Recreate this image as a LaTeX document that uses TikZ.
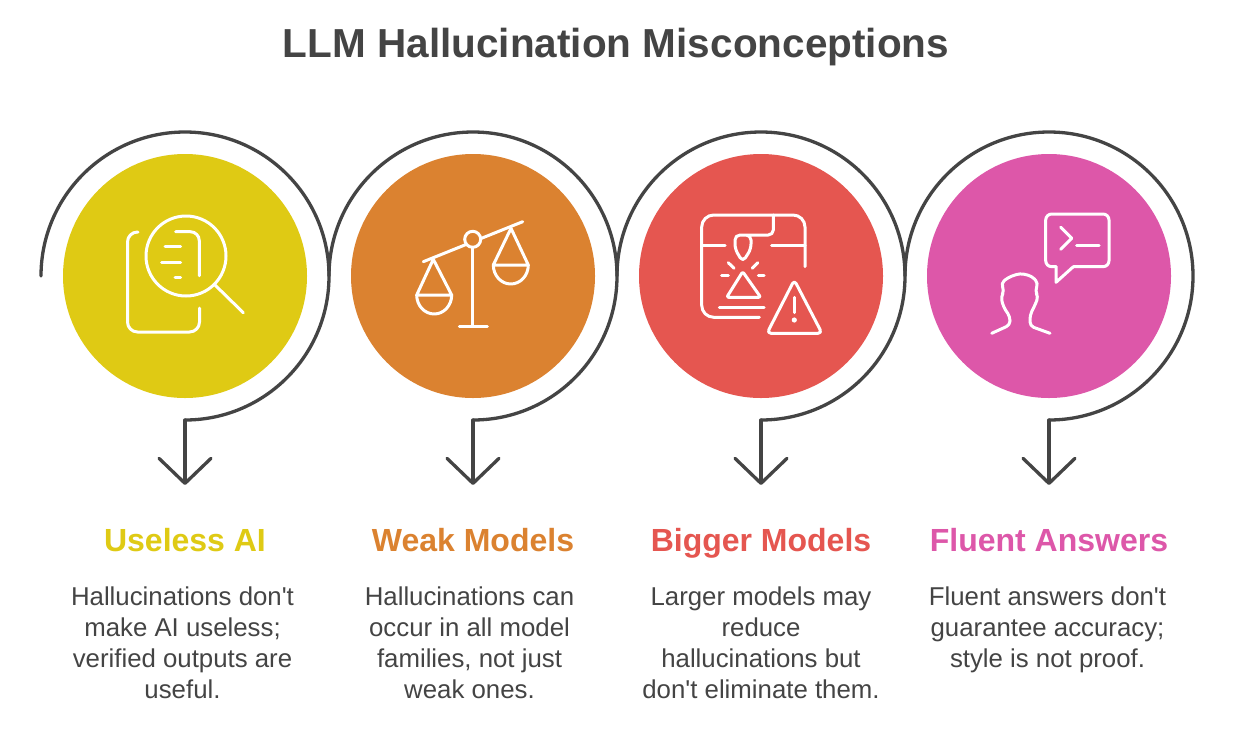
\documentclass[tikz,border=0pt]{standalone}
\usepackage{xcolor}
\usepackage{fontspec}
\setmainfont{Liberation Sans}[Ligatures=TeXOff]
\usetikzlibrary{arrows.meta}
\usetikzlibrary{positioning}
\definecolor{inkgray}{HTML}{444444}
\definecolor{useyellow}{HTML}{DFCA14}
\definecolor{weakorange}{HTML}{DB8230}
\definecolor{bigred}{HTML}{E55650}
\definecolor{fluentpink}{HTML}{DD57A9}

\begin{document}
\begin{tikzpicture}[x=1pt,y=-1pt,>={Straight Barb[length=25pt,width=52pt,round]}]
	\tikzstyle{disc}=[circle, inner sep=0pt, outer sep=0pt, minimum size=244pt]
	\tikzstyle{ring}=[draw=inkgray, line width=3.3pt, line cap=round]
	\tikzstyle{icon}=[draw=white, line width=3pt, line cap=round, line join=round]
	\tikzstyle{head}=[font=\bfseries\fontsize{32}{38}\selectfont, inner sep=0pt]
	\tikzstyle{body}=[font=\fontsize{25.8}{31}\selectfont, text=inkgray, align=center, inner sep=0pt]

	\useasboundingbox (0,0) rectangle (1234,737);
	\fill[white] (0,0) rectangle (1234,737);

	\node[font=\bfseries\fontsize{40.5}{50}\selectfont, text=inkgray, inner sep=0pt] (title) at (616,47) {LLM Hallucination Misconceptions};

	\node[disc, fill=useyellow] 	(A) at (185,276)		{};
	\node[disc, fill=weakorange] 	(B) [right=44pt of A]	{};
	\node[disc, fill=bigred] 		(C) [right=44pt of B]	{};
	\node[disc, fill=fluentpink] 	(D) [right=44pt of C]	{};

	% ring ends
	\node[coordinate] (As) [left=144pt of A.center] {};
	\node[coordinate] (Bs) [left=144pt of B.center] {};
	\node[coordinate] (Cs) [left=144pt of C.center] {};
	\node[coordinate] (Ds) [left=144pt of D.center] {};
	\node[coordinate] (Ab) [below=144pt of A.center] {};
	\node[coordinate] (Bb) [below=144pt of B.center] {};
	\node[coordinate] (Cb) [below=144pt of C.center] {};
	\node[coordinate] (Db) [below=144pt of D.center] {};
	\node[coordinate] (Ae) [below=65pt of Ab] {};
	\node[coordinate] (Be) [below=65pt of Bb] {};
	\node[coordinate] (Ce) [below=65pt of Cb] {};
	\node[coordinate] (De) [below=65pt of Db] {};

	\draw[ring] (As) arc (180:450:144);
	\draw[ring] (Bs) arc (180:450:144);
	\draw[ring] (Cs) arc (180:450:144);
	\draw[ring] (Ds) arc (180:450:144);

	\path[ring]
		(Ab) edge [->] (Ae)
		(Bb) edge [->] (Be)
		(Cb) edge [->] (Ce)
		(Db) edge [->] (De);

	\node[head, text=useyellow] 	(Ah) [below=43pt of Ae] {Useless AI};
	\node[head, text=weakorange] 	(Bh) [below=43pt of Be] {Weak Models};
	\node[head, text=bigred] 		(Ch) [below=43pt of Ce] {Bigger Models};
	\node[head, text=fluentpink] 	(Dh) [below=43pt of De] {Fluent Answers};

	\node[body, anchor=north] (At) at (182.5,587) {Hallucinations don't\\make AI useless;\\verified outputs are\\useful.};
	\node[body, anchor=north] (Bt) at (469.5,587) {Hallucinations can\\occur in all model\\families, not just\\weak ones.};
	\node[body, anchor=north] (Ct) at (761,587) {Larger models may\\reduce\\hallucinations but\\don't eliminate them.};
	\node[body, anchor=north] (Dt) at (1047.5,587) {Fluent answers don't\\guarantee accuracy;\\style is not proof.};

	% magnifier
	\draw[icon, rounded corners=10pt] (138,232) -- (127.5,232) -- (127.5,332) -- (199.5,332) -- (199.5,308);
	\draw[icon] (186,256) circle (40);
	\draw[icon] (215,285) -- (243.3,312.7);
	\draw[icon, rounded corners=9pt] (175.7,231.7) -- (199.3,231.7) -- (199.3,275.7);
	\draw[icon] (165,246.7) -- (180.7,246.7);
	\draw[icon] (161.7,262.3) -- (180.7,262.3);
	\draw[icon] (175,277.7) -- (180.7,277.7);

	% scales
	\draw[icon] (423.3,261.7) -- (522.7,221.7);
	\draw[icon, fill=weakorange] (472.7,239.3) circle (8);
	\draw[icon] (472.7,248) -- (472.7,326);
	\draw[icon] (459.3,326.7) -- (487.3,326.7);
	\draw[icon] (416.7,295) -- (433.3,259.3) -- (451.7,295) -- cycle;
	\draw[icon] (416.7,295) arc[start angle=180, end angle=0, x radius=17.5, y radius=19];
	\draw[icon] (493.3,265) -- (511,228.3) -- (528.3,265) -- cycle;
	\draw[icon] (493.3,265) arc[start angle=180, end angle=0, x radius=17.5, y radius=19];

	% printer with warning
	\draw[icon, rounded corners=12pt] (805,266.7) -- (805,215) -- (701.7,215) -- (701.7,317.3) -- (759.3,317.3);
	\draw[icon] (702,245) -- (725,245);
	\draw[icon] (771.7,245) -- (805,245);
	\draw[icon, rounded corners=5pt] (773.3,215) -- (773.3,235) -- (735,235) -- (735,249) -- (742.7,262) -- (751,249) -- (751,235) -- (745,235);
	\draw[icon] (728.3,262.7) -- (734,268.3);
	\draw[icon] (757.7,262.7) -- (752.3,268.3);
	\draw[icon] (721.7,275.7) -- (728.3,275.7);
	\draw[icon] (758.3,275.7) -- (764,275.7);
	\draw[icon, rounded corners=2pt] (742.7,271.7) -- (726.7,297.3) -- (760.7,297.3) -- cycle;
	\draw[icon] (719.3,307.3) -- (764,307.3);
	\draw[icon, rounded corners=4pt] (794.3,280) -- (767,333.3) -- (822,333.3) -- cycle;
	\draw[icon] (794.3,297.3) -- (794.3,312.7);
	\fill[white] (794.3,320) circle (2.6);

	% speaker with prompt
	\draw[icon, rounded corners=6pt] (1056,266.7) -- (1045.7,266.7) -- (1045.7,214) -- (1109,214) -- (1109,266.7) -- (1073.3,266.7);
	\draw[icon] (1073.3,266.7) -- (1056,282.3) -- (1056,266.7);
	\draw[icon] (1060.7,227.3) -- (1071.7,238.3) -- (1060.7,249.3);
	\draw[icon] (1076.7,245.7) -- (1099,245.7);
	\draw[icon, rounded corners=4pt] (991.7,333.3) -- (1010,325) -- (1010,316.7) -- (1003.3,306.7) -- (1001,296.7) -- (1004.3,290.7) -- (1001,283.3) -- (1008.3,277.3) -- (1020,273.3) -- (1031.7,276) -- (1038.3,283.3) -- (1035,290.7) -- (1038.3,296.7) -- (1035,305) -- (1030,315) -- (1030,326) -- (1050,333.3);
\end{tikzpicture}
\end{document}
